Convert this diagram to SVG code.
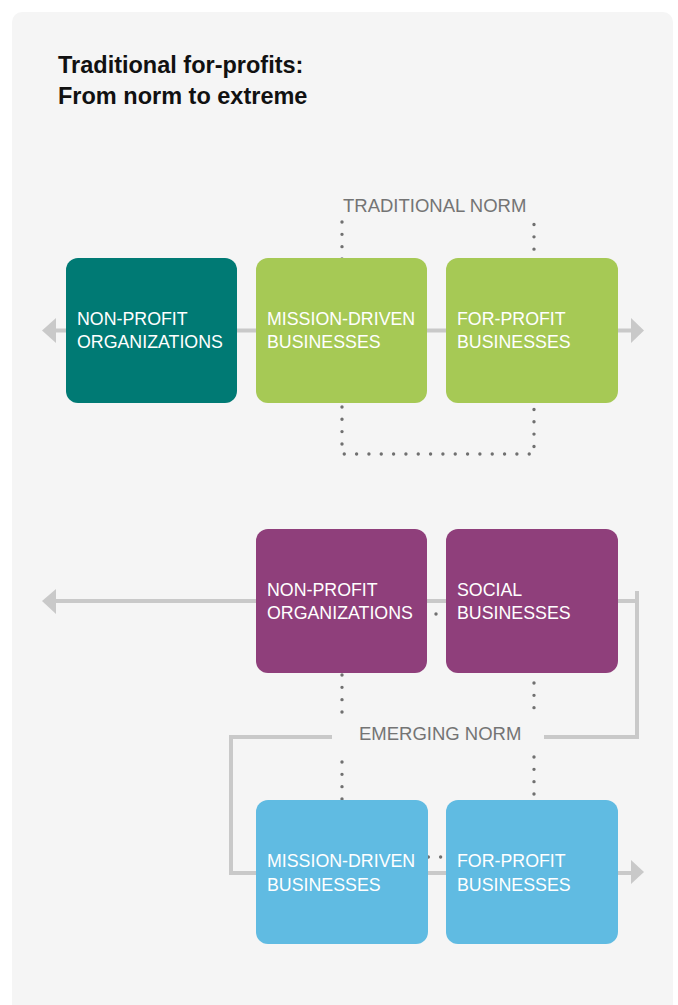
<svg xmlns="http://www.w3.org/2000/svg" width="678" height="1005" viewBox="0 0 678 1005">
<style>
.title{font-family:"Liberation Sans",Arial,sans-serif;font-size:23.5px;font-weight:bold;fill:#111}
.lbl{font-family:"Liberation Sans",Arial,sans-serif;font-size:17.8px;fill:#fff}
.norm{font-family:"Liberation Sans",Arial,sans-serif;font-size:18.5px;fill:#747474}
.conn{fill:none;stroke:#c9c9c9;stroke-width:4}
.head{fill:#c9c9c9}
.dots{fill:none;stroke:#707070;stroke-width:3.4;stroke-linecap:round;stroke-dasharray:0 12.33}
</style>
<rect x="0" y="0" width="678" height="1005" fill="#ffffff"/>
<rect x="12" y="12" width="661" height="1010" rx="10" fill="#f5f5f5"/>
<g id="title">
<text class="title" x="58" y="73">Traditional for-profits:</text>
<text class="title" x="58" y="104">From norm to extreme</text>
</g>
<g id="connectors">
<line class="conn" x1="54" y1="330.5" x2="633" y2="330.5"/>
<polygon class="head" points="42,330.5 56,318 56,343"/>
<polygon class="head" points="644,330.5 631,318 631,343"/>
<path class="dots" d="M342 222 V454 H534 V219"/>
<path class="conn" d="M54 601 H637 M637 591 V737 H544 M332 737 H231 V873 H633"/>
<polygon class="head" points="42,601 56,589 56,614"/>
<polygon class="head" points="644,872 631,860 631,884"/>
<path class="dots" d="M342 675 V712 M342 762 V800 M534 683 V708 M534 757 V796 M342 857 H534"/>
<circle cx="436" cy="614" r="1.7" fill="#707070"/>
</g>
<g id="label-traditional"><text class="norm" x="343" y="212">TRADITIONAL NORM</text></g>
<g id="label-emerging"><text class="norm" x="359" y="740">EMERGING NORM</text></g>
<g id="n1"><rect x="66" y="258" width="171" height="145" rx="12" fill="#007a74"/>
<text class="lbl" x="77" y="325">NON-PROFIT</text><text class="lbl" x="77" y="348">ORGANIZATIONS</text></g>
<g id="n2"><rect x="256" y="258" width="171" height="145" rx="12" fill="#a6c955"/>
<text class="lbl" x="267" y="325">MISSION-DRIVEN</text><text class="lbl" x="267" y="348">BUSINESSES</text></g>
<g id="n3"><rect x="446" y="258" width="172" height="145" rx="12" fill="#a6c955"/>
<text class="lbl" x="457" y="325">FOR-PROFIT</text><text class="lbl" x="457" y="348">BUSINESSES</text></g>
<g id="n4"><rect x="256" y="529" width="171" height="144" rx="12" fill="#8f3f7b"/>
<text class="lbl" x="267" y="596">NON-PROFIT</text><text class="lbl" x="267" y="619">ORGANIZATIONS</text></g>
<g id="n5"><rect x="446" y="529" width="172" height="144" rx="12" fill="#8f3f7b"/>
<text class="lbl" x="457" y="596">SOCIAL</text><text class="lbl" x="457" y="619">BUSINESSES</text></g>
<g id="n6"><rect x="256" y="800" width="172" height="144" rx="12" fill="#60bbe2"/>
<text class="lbl" x="267" y="867">MISSION-DRIVEN</text><text class="lbl" x="267" y="891">BUSINESSES</text></g>
<g id="n7"><rect x="446" y="800" width="172" height="144" rx="12" fill="#60bbe2"/>
<text class="lbl" x="457" y="867">FOR-PROFIT</text><text class="lbl" x="457" y="891">BUSINESSES</text></g>
</svg>
